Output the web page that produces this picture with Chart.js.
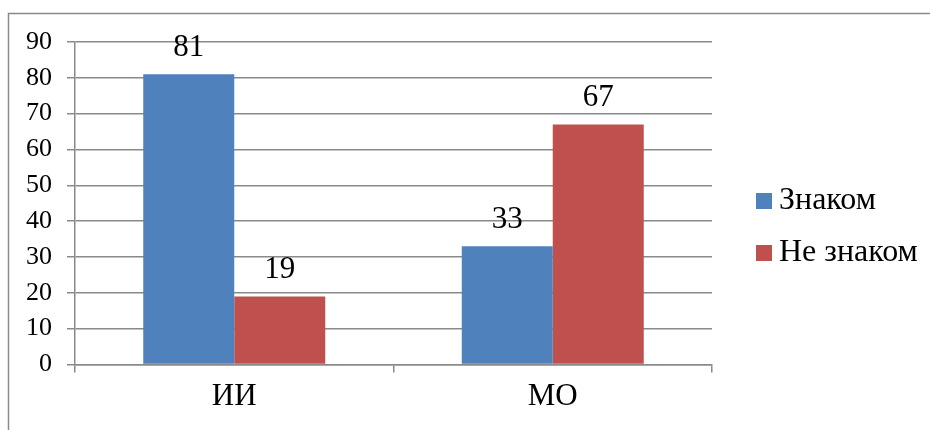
<!DOCTYPE html>
<html>
<head>
<meta charset="utf-8">
<script src="https://cdn.jsdelivr.net/npm/chart.js@4.4.1/dist/chart.umd.min.js"></script>
</head>
<body style="margin:0">
<canvas id="myChart" width="930" height="430"></canvas>
<script>
const categories = ['ИИ', 'МО'];
const seriesNames = ['Знаком', 'Не знаком'];
const znakom = [81, 33];
const neZnakom = [19, 67];
const yTicks = [0, 10, 20, 30, 40, 50, 60, 70, 80, 90];

const fontFamily = '"Liberation Serif", serif';

// grey frame round the whole chart (only top and left edges show)
const chartFrame = {
    id: 'chartFrame',
    beforeDraw(chart) {
        const ctx = chart.ctx;
        ctx.save();
        ctx.fillStyle = '#fff';
        ctx.fillRect(0, 0, chart.width, chart.height);
        ctx.strokeStyle = '#8a8a8a';
        ctx.lineWidth = 1.5;
        ctx.beginPath();
        ctx.moveTo(8.5, chart.height);
        ctx.lineTo(8.5, 13.5);
        ctx.lineTo(chart.width, 13.5);
        ctx.stroke();
        ctx.restore();
    }
};

// value labels above every bar
const barLabels = {
    id: 'barLabels',
    afterDatasetsDraw(chart) {
        const ctx = chart.ctx;
        ctx.save();
        ctx.font = '31px ' + fontFamily;
        ctx.fillStyle = '#000';
        ctx.textAlign = 'center';
        ctx.textBaseline = 'alphabetic';
        chart.data.datasets.forEach((ds, i) => {
            chart.getDatasetMeta(i).data.forEach((bar, j) => {
                ctx.fillText(String(ds.data[j]), bar.x, bar.y - 18);
            });
        });
        ctx.restore();
    }
};

// legend on the right, squares + text
const sideLegend = {
    id: 'sideLegend',
    afterDraw(chart) {
        const ctx = chart.ctx;
        const x = chart.chartArea.right + 44;
        const y0 = 201;
        const gap = 52;
        ctx.save();
        ctx.font = '32px ' + fontFamily;
        ctx.textBaseline = 'middle';
        chart.data.datasets.forEach((ds, i) => {
            const cy = y0 + i * gap;
            ctx.fillStyle = ds.backgroundColor;
            ctx.fillRect(x, cy - 8, 16, 16);
            ctx.fillStyle = '#000';
            ctx.fillText(ds.label, x + 23, cy);
        });
        ctx.restore();
    }
};

const data = {
    labels: categories,
    datasets: [{
        label: seriesNames[0],
        data: znakom,
        backgroundColor: '#4f81bd',
        borderWidth: 0
    }, {
        label: seriesNames[1],
        data: neZnakom,
        backgroundColor: '#c0504d',
        borderWidth: 0
    }]
};

const config = {
    type: 'bar',
    data,
    options: {
        responsive: false,
        animation: false,
        layout: {
            padding: { left: 0, top: 42, right: 218, bottom: 0 }
        },
        datasets: {
            bar: { categoryPercentage: 0.5714, barPercentage: 1 }
        },
        scales: {
            x: {
                grid: {
                    drawOnChartArea: false,
                    drawTicks: true,
                    tickLength: 8,
                    color: '#8a8a8a',
                    lineWidth: 1.5
                },
                border: { color: '#8a8a8a', width: 1.5 },
                ticks: {
                    color: '#000',
                    font: { family: fontFamily, size: 31 },
                    padding: 6
                },
                afterFit(scale) { scale.height = 65.5; }
            },
            y: {
                min: 0,
                max: 90,
                afterBuildTicks(scale) {
                    scale.ticks = yTicks.map(v => ({ value: v }));
                },
                grid: {
                    color: '#8a8a8a',
                    lineWidth: 1.5,
                    tickLength: 8
                },
                border: { color: '#8a8a8a', width: 1.5 },
                ticks: {
                    color: '#000',
                    font: { family: fontFamily, size: 26 },
                    padding: 15
                },
                afterFit(scale) { scale.width = 75; }
            }
        },
        plugins: {
            legend: { display: false },
            tooltip: { enabled: false }
        }
    },
    plugins: [chartFrame, barLabels, sideLegend]
};

const myChart = new Chart(document.getElementById('myChart'), config);
</script>
</body>
</html>
